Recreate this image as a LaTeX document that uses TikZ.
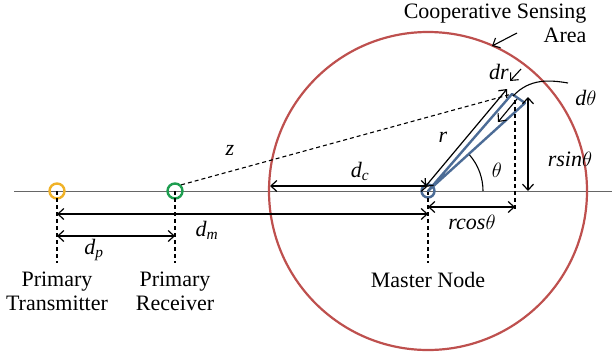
\documentclass[tikz,border=0pt]{standalone}
\usepackage{fontspec}
\setmainfont{Liberation Serif}
\usetikzlibrary{arrows.meta}
\definecolor{txcol}{RGB}{240,178,40}
\definecolor{rxcol}{RGB}{30,158,80}
\definecolor{mncol}{RGB}{76,108,150}
\definecolor{areacol}{RGB}{190,80,78}
\tikzset{
  radio/.style={circle,draw,line width=2.4pt,minimum size=15pt,inner sep=0pt},
  dim/.style={<->,line width=1.2pt},
  lbl/.style={font=\fontsize{22}{24}\selectfont},
  vlbl/.style={font=\fontsize{22}{24}\selectfont\itshape}
}
\begin{document}
\begin{tikzpicture}[x=1pt,y=-1pt,>={Straight Barb[length=6pt,width=11pt]}]
        \useasboundingbox (0,0) rectangle (612,356);
        % base line
        \draw[gray!80!black,line width=0.9pt] (14,191) -- (612,191);
        % sensing area
        \draw[areacol,line width=2.2pt] (428,191) circle (159);
        \coordinate (edge) at (270,186);
        % nodes
        \node[radio,draw=txcol] (tx) at (57,191) {};
        \node[radio,draw=rxcol] (rx) at (175,191) {};
        \node[radio,draw=mncol,minimum size=13pt] (mn) at (428,191) {};
        \foreach \n in {tx,rx,mn}
        {
            \draw[dashed,line width=1.1pt,dash pattern=on 4pt off 3pt] (\n.center) -- ++(0,72);
        }
        % element of area
        \coordinate (tipa) at (512,94);
        \coordinate (tipb) at (525,103);
        \draw[mncol,line width=2.4pt,line join=round] (mn.center) -- (tipa) -- (tipb) -- cycle;
        \draw[dashed,line width=1.1pt,dash pattern=on 4pt off 3pt] (rx.north east) -- (tipa);
        \node[vlbl] (z) at (230,150) {z};
        % distances
        \draw[dim] (tx.center |- 0,214) -- (mn.center |- 0,214);
        \node[vlbl] (dm) at (207,230) {d\textsubscript{m}};
        \draw[dim] (tx.center |- 0,236) -- (rx.center |- 0,236);
        \node[vlbl] (dp) at (94,250) {d\textsubscript{p}};
        \draw[dim] (edge) -- (mn.center |- edge);
        \node[vlbl] (dc) at (360,171) {d\textsubscript{c}};
        % polar quantities
        \draw[dim] (425,187) -- (507,89);
        \node[vlbl] (r) at (443,137) {r};
        \draw[->,line width=1.1pt] (521,69) -- (510,81);
        \node[vlbl] (dr) at (499,72) {dr};
        \draw[->,line width=1.1pt] (517,99) -- (498,122);
        \draw[line width=1.1pt] (513,96) .. controls (530,78) and (550,80) .. (568,83);
        \node[vlbl] (dth) at (586,98) {d$\theta$};
        \draw[line width=1.1pt] (483,191) arc (0:-41:55);
        \node[vlbl] (th) at (497,170) {$\theta$};
        \draw[dashed,line width=1.1pt,dash pattern=on 4pt off 3pt] (515,100) -- (515,210);
        \draw[dim] (mn.center |- 0,207) -- (515,207);
        \node[vlbl] (rcos) at (472,222) {rcos$\theta$};
        \draw[dim] (528,97) -- (528,191);
        \node[vlbl] (rsin) at (570,159) {rsin$\theta$};
        % labels
        \node[lbl,align=center] (txl) at (57,291) {Primary\\Transmitter};
        \node[lbl,align=center] (rxl) at (175,291) {Primary\\Receiver};
        \node[lbl] (mnl) at (428,280) {Master Node};
        \node[lbl,align=right,anchor=north east] (area) at (590,0) {Cooperative Sensing\\Area};
        \draw[->,line width=1.1pt] (517,33) -- (492,46);
    \end{tikzpicture}
\end{document}
